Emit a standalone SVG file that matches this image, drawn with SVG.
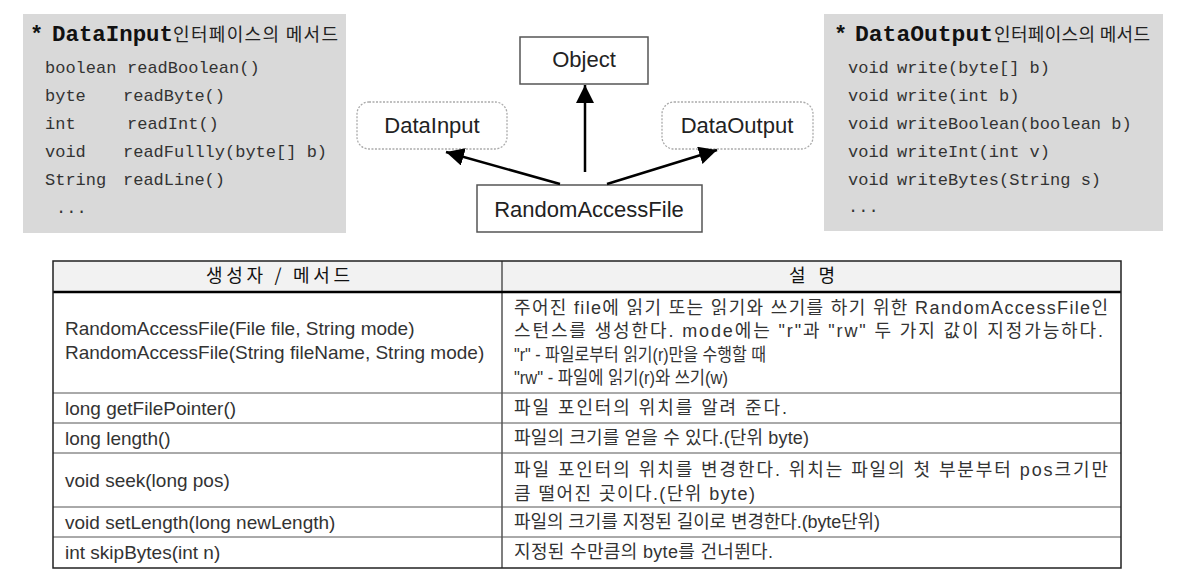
<svg xmlns="http://www.w3.org/2000/svg" width="1188" height="584" viewBox="0 0 1188 584">
<style>
.panel{fill:#d9d9d9}
.mono{font-family:"Liberation Mono","Courier New",monospace;font-size:17px;fill:#333}
.title{font-family:"Liberation Mono","Courier New",monospace;font-size:22px;font-weight:bold;fill:#111}
.ko{font-family:"Noto Sans CJK KR",sans-serif;font-size:18px;fill:#222}
.node{fill:#fff;stroke:#555;stroke-width:1.5}
.iface{fill:#fff;stroke:#aaa;stroke-width:1.3;stroke-dasharray:2 1.5}
.lbl{font-family:"Liberation Sans",Arial,sans-serif;font-size:22px;fill:#222;text-anchor:middle}
.conn{stroke:#000;stroke-width:2.5;fill:none}
.t{font-family:"Liberation Sans","Noto Sans CJK KR",sans-serif;font-size:19px;fill:#333}
.tk{font-family:"Liberation Sans","Noto Sans CJK KR",sans-serif;font-size:18px;fill:#333}
.hd{font-family:"Noto Sans CJK KR",sans-serif;font-size:18px;fill:#111}
.grid{stroke:#555;stroke-width:1}
</style>
<defs>
<marker id="arr" markerUnits="userSpaceOnUse" markerWidth="18" markerHeight="18" viewBox="0 0 10 10" refX="10" refY="5" orient="auto">
<path d="M0,0 L10,5 L0,10 z" fill="#000"/>
</marker>
</defs>

<g id="datainput-methods">
<rect class="panel" x="23" y="14" width="323" height="219"/>
<text class="title" x="30" y="41">*</text>
<text class="title" x="52" y="41" textLength="121" lengthAdjust="spacingAndGlyphs">DataInput</text>
<text class="ko" x="173" y="41" textLength="165">인터페이스의 메서드</text>
<text class="mono" x="45" y="73">boolean</text><text class="mono" x="127" y="73">readBoolean()</text>
<text class="mono" x="45" y="101">byte</text><text class="mono" x="123" y="101">readByte()</text>
<text class="mono" x="45" y="129">int</text><text class="mono" x="127" y="129">readInt()</text>
<text class="mono" x="45" y="157">void</text><text class="mono" x="123" y="157">readFullly(byte[] b)</text>
<text class="mono" x="45" y="185">String</text><text class="mono" x="123" y="185">readLine()</text>
<text class="mono" x="56" y="213">...</text>
</g>

<g id="dataoutput-methods">
<rect class="panel" x="824" y="14" width="339" height="217"/>
<text class="title" x="834" y="41">*</text>
<text class="title" x="855" y="41" textLength="138" lengthAdjust="spacingAndGlyphs">DataOutput</text>
<text class="ko" x="994" y="41" textLength="156">인터페이스의 메서드</text>
<text class="mono" x="848" y="73">void</text><text class="mono" x="897" y="73">write(byte[] b)</text>
<text class="mono" x="848" y="101">void</text><text class="mono" x="897" y="101">write(int b)</text>
<text class="mono" x="848" y="129">void</text><text class="mono" x="897" y="129">writeBoolean(boolean b)</text>
<text class="mono" x="848" y="157">void</text><text class="mono" x="897" y="157">writeInt(int v)</text>
<text class="mono" x="848" y="185">void</text><text class="mono" x="897" y="185">writeBytes(String s)</text>
<text class="mono" x="848" y="212">...</text>
</g>

<g id="object">
<rect class="node" x="520" y="37" width="128" height="47"/>
<text class="lbl" x="584" y="67">Object</text>
</g>
<g id="datainput">
<rect class="iface" x="357" y="102" width="150" height="47" rx="12"/>
<text class="lbl" x="432" y="133">DataInput</text>
</g>
<g id="dataoutput">
<rect class="iface" x="662" y="102" width="151" height="47" rx="12"/>
<text class="lbl" x="737" y="133">DataOutput</text>
</g>
<g id="randomaccessfile">
<rect class="node" x="477" y="185" width="225" height="47"/>
<text class="lbl" x="589" y="217">RandomAccessFile</text>
</g>

<g id="connectors">
<line class="conn" x1="585" y1="172" x2="585" y2="85" marker-end="url(#arr)"/>
<line class="conn" x1="560" y1="184" x2="446" y2="152" marker-end="url(#arr)"/>
<line class="conn" x1="607" y1="184" x2="717" y2="150" marker-end="url(#arr)"/>
</g>

<g id="table">
<rect x="53" y="261" width="1068" height="31" fill="#f2f2f2"/>
<line class="grid" x1="53" y1="393" x2="1121" y2="393"/>
<line class="grid" x1="53" y1="423" x2="1121" y2="423"/>
<line class="grid" x1="53" y1="453" x2="1121" y2="453"/>
<line class="grid" x1="53" y1="507" x2="1121" y2="507"/>
<line class="grid" x1="53" y1="537" x2="1121" y2="537"/>
<line x1="502" y1="261" x2="502" y2="568" stroke="#555" stroke-width="1.5"/>
<line x1="53" y1="292" x2="1121" y2="292" stroke="#000" stroke-width="2.5"/>
<rect x="53" y="261" width="1068" height="307" fill="none" stroke="#222" stroke-width="1.5"/>

<text class="hd" x="206" y="282" textLength="144">생성자 / 메서드</text>
<text class="hd" x="789" y="282" textLength="46">설 명</text>

<text class="t" x="65" y="335">RandomAccessFile(File file, String mode)</text>
<text class="t" x="65" y="359">RandomAccessFile(String fileName, String mode)</text>
<text class="t" x="65" y="415">long getFilePointer()</text>
<text class="t" x="65" y="445">long length()</text>
<text class="t" x="65" y="487">void seek(long pos)</text>
<text class="t" x="65" y="529">void setLength(long newLength)</text>
<text class="t" x="65" y="559">int skipBytes(int n)</text>

<text class="tk" x="514" y="314" textLength="594">주어진 file에 읽기 또는 읽기와 쓰기를 하기 위한 RandomAccessFile인</text>
<text class="tk" x="514" y="337" textLength="589">스턴스를 생성한다. mode에는 "r"과 "rw" 두 가지 값이 지정가능하다.</text>
<text class="tk" x="514" y="361" textLength="252" lengthAdjust="spacingAndGlyphs">"r" - 파일로부터 읽기(r)만을 수행할 때</text>
<text class="tk" x="514" y="384" textLength="214" lengthAdjust="spacingAndGlyphs">"rw" - 파일에 읽기(r)와 쓰기(w)</text>
<text class="tk" x="514" y="414" textLength="273">파일 포인터의 위치를 알려 준다.</text>
<text class="tk" x="514" y="444" textLength="295">파일의 크기를 얻을 수 있다.(단위 byte)</text>
<text class="tk" x="514" y="476" textLength="594">파일 포인터의 위치를 변경한다. 위치는 파일의 첫 부분부터 pos크기만</text>
<text class="tk" x="514" y="500" textLength="241">큼 떨어진 곳이다.(단위 byte)</text>
<text class="tk" x="514" y="528" textLength="366">파일의 크기를 지정된 길이로 변경한다.(byte단위)</text>
<text class="tk" x="514" y="558" textLength="259">지정된 수만큼의 byte를 건너뛴다.</text>
</g>
</svg>
